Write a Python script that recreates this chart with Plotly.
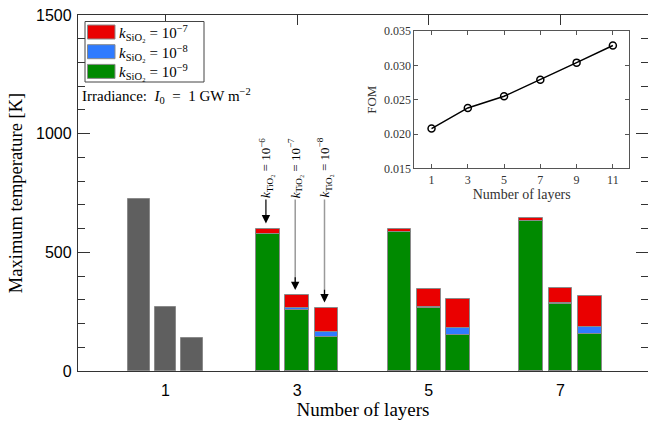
import plotly.graph_objects as go

# ---------------- data ----------------
layer_ticks = [1, 3, 5, 7]
single_layer = 1
single_layer_temps = [725, 268, 140]          # k_TiO2 = 1e-6, 1e-7, 1e-8
multi_layers = [3, 5, 7]
# rows: layers 3,5,7 ; cols: k_TiO2 = 1e-6, 1e-7, 1e-8
temp_ksio2_1e7 = [[600, 319, 267], [598, 344, 302], [646, 351, 317]]
temp_ksio2_1e8 = [[578, 267, 166], [587, 270, 180], [632, 286, 187]]
temp_ksio2_1e9 = [[576, 257, 145], [585, 267, 150], [630, 284, 157]]
fom_layers = [1, 3, 5, 7, 9, 11]
fom_values = [0.0208, 0.0238, 0.0255, 0.0279, 0.0304, 0.0329]
legend_labels = ["<i>k</i><sub>SiO₂</sub> = 10<sup>−7</sup>",
                 "<i>k</i><sub>SiO₂</sub> = 10<sup>−8</sup>",
                 "<i>k</i><sub>SiO₂</sub> = 10<sup>−9</sup>"]
annot_labels = ["<i>k</i><sub>TiO₂</sub> = 10<sup>−6</sup>",
                "<i>k</i><sub>TiO₂</sub> = 10<sup>−7</sup>",
                "<i>k</i><sub>TiO₂</sub> = 10<sup>−8</sup>"]

# ---------------- styles ----------------
RED, BLUE, GREEN, GRAY = "#ea0000", "#2f7bff", "#008a00", "#5f5f5f"
EDGE = "#8a8a8a"
SERIF = "Liberation Serif"
SANS = "Liberation Sans"
AX = "#333333"

W, H = 648, 422
ML, MR, MT, MB = 78, 0, 15, 51
PW, PH = W - ML - MR, H - MT - MB


def PX(x):
    return (x - ML) / PW


def PY(y):
    return (H - MB - y) / PH


OFF1, WID1 = 0.40, 0.33
OFF, WID = 0.445, 0.36

fig = go.Figure()

# single-layer bars
fig.add_trace(go.Bar(
    x=[single_layer + (j - 1) * OFF1 for j in range(3)],
    y=single_layer_temps, width=WID1,
    marker=dict(color=GRAY, line=dict(color=EDGE, width=1), opacity=1),
    showlegend=False, hoverinfo="skip"))

xs = [L + (j - 1) * OFF for L in multi_layers for j in range(3)]
for vals, col in [(temp_ksio2_1e7, RED), (temp_ksio2_1e8, BLUE), (temp_ksio2_1e9, GREEN)]:
    fig.add_trace(go.Bar(
        x=xs, y=[v for row in vals for v in row], width=WID,
        marker=dict(color=col, line=dict(color=EDGE, width=1), opacity=1),
        showlegend=False, hoverinfo="skip"))

# inset
fig.add_trace(go.Scatter(
    x=fom_layers, y=fom_values, mode="lines+markers", xaxis="x2", yaxis="y2",
    line=dict(color="black", width=1.5),
    marker=dict(symbol="circle-open", size=7, color="black", line=dict(width=1.5)),
    showlegend=False, hoverinfo="skip"))

fig.update_layout(
    width=W, height=H, margin=dict(l=ML, r=MR, t=MT, b=MB),
    paper_bgcolor="white", plot_bgcolor="white", barmode="overlay",
    bargap=0,
    xaxis=dict(range=[-0.33, 8.33], tickvals=layer_ticks, ticks="inside", ticklen=10,
               tickwidth=1.3, tickcolor=AX, showline=True, linecolor=AX, linewidth=1.3,
               mirror="ticks", layer="below traces", showgrid=False, zeroline=False,
               ticklabelstandoff=5,
               tickfont=dict(family=SANS, size=16, color="black"),
               title=dict(text="Number of layers", font=dict(family=SERIF, size=19, color="black"),
                          standoff=3)),
    yaxis=dict(range=[0, 1500], tickvals=[0, 500, 1000, 1500], ticks="inside", ticklen=12,
               tickwidth=1.3, tickcolor=AX, showline=True, linecolor=AX, linewidth=1.3,
               mirror="ticks", showgrid=False, zeroline=False, ticklabelstandoff=2,
               minor=dict(dtick=100, ticks="inside", ticklen=7, tickcolor=AX, tickwidth=1.3),
               tickfont=dict(family=SANS, size=16, color="black"),
               title=dict(text="Maximum temperature [K]", font=dict(family=SERIF, size=18.5, color="black"),
                          standoff=8)),
    xaxis2=dict(domain=[0.590, 0.967], anchor="y2", range=[0.05, 11.9], tickvals=fom_layers,
                ticks="inside", ticklen=4, tickcolor="#555", showline=True, linecolor="#555",
                linewidth=1, mirror="ticks", showgrid=False, zeroline=False,
                tickfont=dict(family=SERIF, size=12, color="#333"),
                title=dict(text="Number of layers", font=dict(family=SERIF, size=14, color="#333"),
                           standoff=2)),
    yaxis2=dict(domain=[0.569, 0.955], anchor="x2", range=[0.015, 0.035],
                tickvals=[0.015, 0.020, 0.025, 0.030, 0.035], tickformat=".3f",
                ticks="inside", ticklen=4, tickcolor="#555", showline=True, linecolor="#555",
                linewidth=1, mirror="ticks", showgrid=False, zeroline=False,
                tickfont=dict(family=SERIF, size=12, color="#333"),
                title=dict(text="FOM", font=dict(family=SERIF, size=13, color="#333"), standoff=4)),
)

# custom legend
shapes = [dict(type="rect", xref="paper", yref="paper", x0=PX(85), x1=PX(204), y0=PY(82), y1=PY(21.5),
               line=dict(color="#444", width=1), fillcolor="white", layer="above")]
annots = []
for i, (lab, col) in enumerate(zip(legend_labels, [RED, BLUE, GREEN])):
    yc = 32 + i * 19.7
    shapes.append(dict(type="rect", xref="paper", yref="paper", x0=PX(87.5), x1=PX(115),
                       y0=PY(yc + 7), y1=PY(yc - 7), line=dict(color=EDGE, width=1),
                       fillcolor=col, layer="above"))
    annots.append(dict(text=lab, xref="paper", yref="paper", x=PX(117), y=PY(yc + 1),
                       xanchor="left", yanchor="middle", showarrow=False,
                       font=dict(family=SERIF, size=15, color="black")))

annots.append(dict(text="Irradiance:  <i>I</i><sub>0</sub>  =  1 GW m<sup>−2</sup>",
                   xref="paper", yref="paper", x=PX(80), y=PY(96), xanchor="left",
                   yanchor="middle", showarrow=False,
                   font=dict(family=SERIF, size=15, color="black")))

# arrow annotations for layer 3
tail_val = 729
for j in range(3):
    xb = multi_layers[0] + (j - 1) * OFF - 0.03
    tip = temp_ksio2_1e7[0][j] + 22
    annots.append(dict(text=annot_labels[j], x=xb, y=PY(168), xref="x", yref="paper",
                       textangle=-90, showarrow=False, xanchor="center", yanchor="middle",
                       font=dict(family=SERIF, size=13, color="black")))
    if j == 0:
        annots.append(dict(text="", x=xb, y=tip, ax=xb, ay=tail_val, xref="x", yref="y",
                           axref="x", ayref="y", showarrow=True, arrowhead=2, arrowsize=1.4,
                           arrowwidth=1.2, arrowcolor="black"))
    else:
        annots.append(dict(text="", x=xb, y=tip + 15, ax=xb, ay=tail_val, xref="x", yref="y",
                           axref="x", ayref="y", showarrow=True, arrowhead=0,
                           arrowwidth=1.5, arrowcolor="#9a9a9a"))
        annots.append(dict(text="", x=xb, y=tip, ax=xb, ay=tip + 60, xref="x", yref="y",
                           axref="x", ayref="y", showarrow=True, arrowhead=2, arrowsize=1.4,
                           arrowwidth=1.2, arrowcolor="black"))

fig.update_layout(shapes=shapes, annotations=annots)
fig.write_html("out.html")
